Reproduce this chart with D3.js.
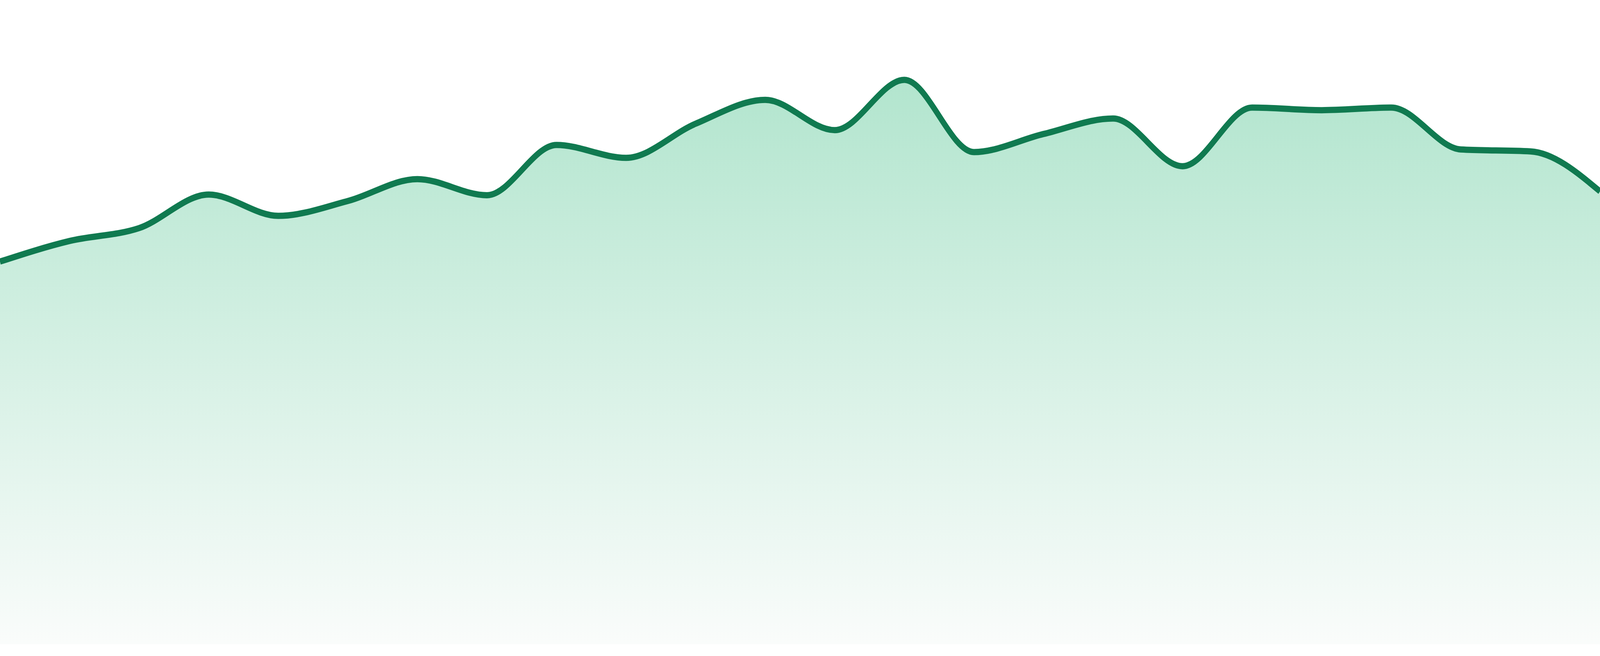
<!DOCTYPE html>
<html>
<head>
<meta charset="utf-8">
<script src="https://cdn.jsdelivr.net/npm/d3@7"></script>
<style>
  html, body { margin: 0; padding: 0; background: #fff; overflow: hidden; }
  #chart { width: 100vw; height: 100vh; }
  svg { display: block; width: 100%; height: 100%; }
</style>
</head>
<body>
<div id="chart"></div>
<script>
// one value per evenly spaced step
const steps = d3.range(24);
const values = [
  59.4, 62.6, 64.6, 69.8, 66.5, 68.8, 72.2, 69.7,
  77.5, 75.5, 80.8, 84.5, 79.8, 87.6, 76.4, 79.2,
  81.6, 74.2, 83.3, 82.9, 83.3, 76.8, 76.5, 70.3
];
const data = steps.map((s, i) => ({ step: s, value: values[i] }));

// drawing space, stretched onto the window whatever its size
const width = 4800;
const height = 1680;
const margin = { top: 0, right: 0, bottom: 30, left: 0 };

const svg = d3.select("#chart")
  .append("svg")
  .attr("viewBox", `0 0 ${width} ${height}`)
  .attr("preserveAspectRatio", "none");

const x = d3.scaleLinear()
  .domain(d3.extent(steps))
  .range([margin.left, width - margin.right]);

const y = d3.scaleLinear()
  .domain([0, 100])
  .range([height - margin.bottom, margin.top]);

// gradient fill, strongest at the top of the data
const grad = svg.append("defs")
  .append("linearGradient")
  .attr("id", "fillGrad")
  .attr("gradientUnits", "userSpaceOnUse")
  .attr("x1", 0).attr("x2", 0)
  .attr("y1", y(d3.max(values)))
  .attr("y2", y(0));

grad.append("stop").attr("offset", "0%").attr("stop-color", "#b2e5ce");
grad.append("stop").attr("offset", "100%").attr("stop-color", "#fafcfb");

const area = d3.area()
  .x(d => x(d.step))
  .y0(y(0))
  .y1(d => y(d.value))
  .curve(d3.curveMonotoneX);

const line = d3.line()
  .x(d => x(d.step))
  .y(d => y(d.value))
  .curve(d3.curveMonotoneX);

svg.append("path")
  .datum(data)
  .attr("fill", "url(#fillGrad)")
  .attr("d", area);

svg.append("path")
  .datum(data)
  .attr("fill", "none")
  .attr("stroke", "#107a50")
  .attr("stroke-width", 16)
  .attr("stroke-linejoin", "round")
  .attr("d", line);
</script>
</body>
</html>
